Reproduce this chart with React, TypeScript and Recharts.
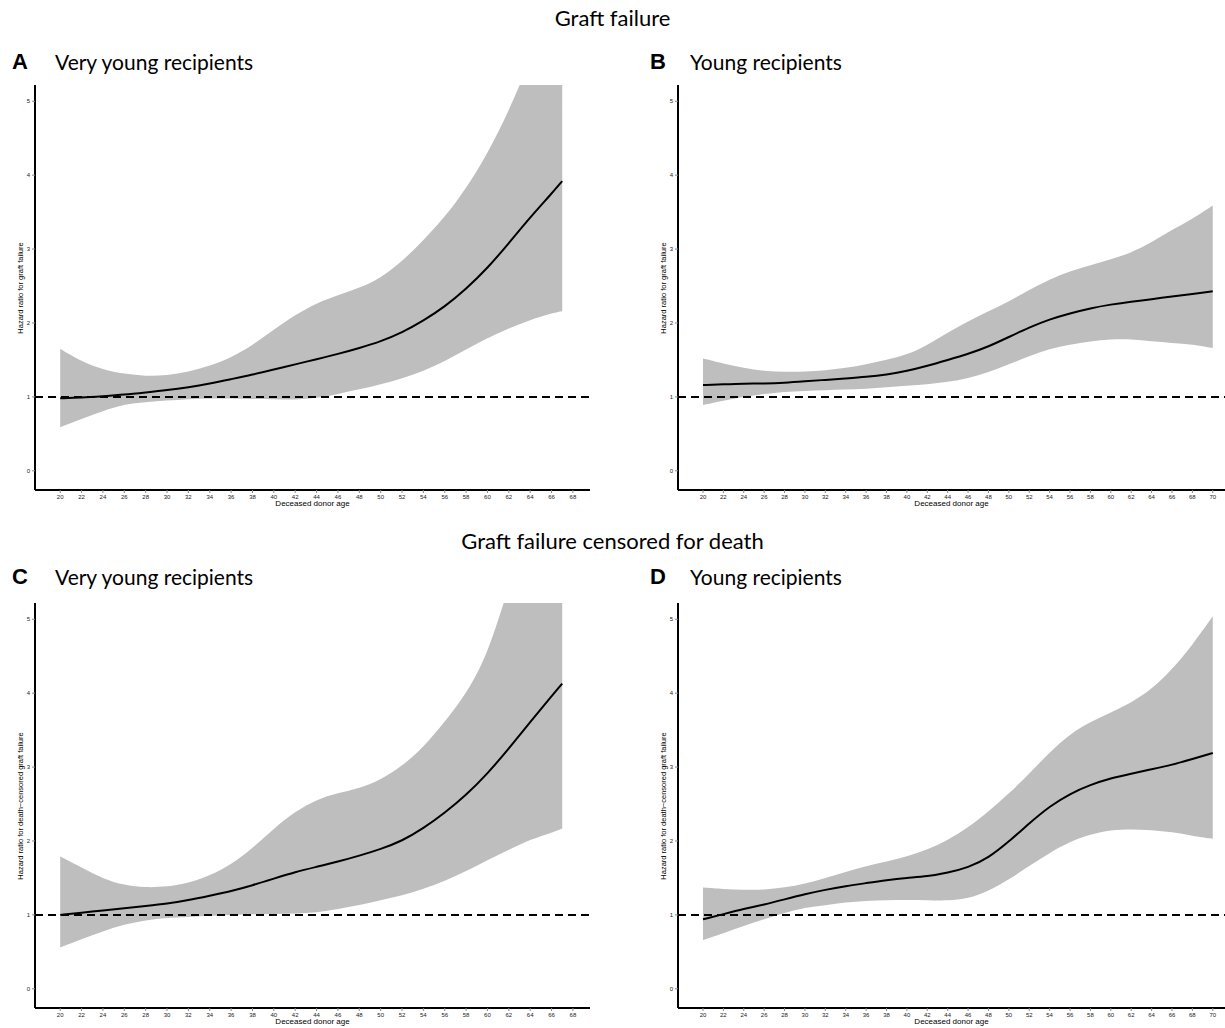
import React from 'react';
import { ComposedChart, Area, Line, XAxis, YAxis, ReferenceLine } from 'recharts';

const agesVeryYoung = [20, 22, 24, 26, 28, 30, 32, 34, 36, 38, 40, 42, 44, 46, 48, 50, 52, 54, 56, 58, 60, 62, 64, 66, 67];
const agesYoung = [20, 22, 24, 26, 28, 30, 32, 34, 36, 38, 40, 42, 44, 46, 48, 50, 52, 54, 56, 58, 60, 62, 64, 66, 68, 70];

const ticksVeryYoung = [20, 22, 24, 26, 28, 30, 32, 34, 36, 38, 40, 42, 44, 46, 48, 50, 52, 54, 56, 58, 60, 62, 64, 66, 68];
const ticksYoung = [20, 22, 24, 26, 28, 30, 32, 34, 36, 38, 40, 42, 44, 46, 48, 50, 52, 54, 56, 58, 60, 62, 64, 66, 68, 70];
const yTicks = [0, 1, 2, 3, 4, 5];

// A: graft failure, very young recipients
const hrA = [0.98, 0.99, 1.01, 1.03, 1.06, 1.09, 1.13, 1.18, 1.24, 1.3, 1.37, 1.44, 1.51, 1.58, 1.66, 1.75, 1.87, 2.03, 2.22, 2.46, 2.74, 3.08, 3.43, 3.75, 3.92];
const upperA = [1.65, 1.48, 1.37, 1.31, 1.28, 1.29, 1.34, 1.42, 1.53, 1.7, 1.91, 2.11, 2.27, 2.38, 2.47, 2.61, 2.83, 3.12, 3.43, 3.82, 4.29, 4.87, 5.55, 6.3, 6.7];
const lowerA = [0.59, 0.7, 0.81, 0.9, 0.93, 0.95, 0.97, 0.98, 0.98, 0.97, 0.97, 0.96, 0.98, 1.04, 1.1, 1.17, 1.25, 1.35, 1.48, 1.64, 1.8, 1.93, 2.04, 2.13, 2.16];

// B: graft failure, young recipients
const hrB = [1.16, 1.17, 1.18, 1.18, 1.19, 1.21, 1.23, 1.25, 1.27, 1.3, 1.35, 1.42, 1.5, 1.58, 1.68, 1.81, 1.94, 2.05, 2.13, 2.2, 2.25, 2.29, 2.32, 2.36, 2.39, 2.43];
const upperB = [1.52, 1.45, 1.39, 1.35, 1.34, 1.34, 1.36, 1.39, 1.44, 1.5, 1.57, 1.7, 1.87, 2.02, 2.16, 2.29, 2.45, 2.59, 2.7, 2.78, 2.86, 2.95, 3.09, 3.26, 3.41, 3.59];
const lowerB = [0.89, 0.95, 1.0, 1.04, 1.07, 1.08, 1.09, 1.1, 1.11, 1.13, 1.15, 1.17, 1.2, 1.25, 1.33, 1.44, 1.55, 1.65, 1.71, 1.75, 1.78, 1.78, 1.75, 1.73, 1.71, 1.66];

// C: death-censored graft failure, very young recipients
const hrC = [1.0, 1.03, 1.06, 1.09, 1.12, 1.15, 1.2, 1.26, 1.32, 1.4, 1.49, 1.58, 1.65, 1.72, 1.8, 1.89, 2.0, 2.17, 2.38, 2.62, 2.91, 3.25, 3.61, 3.96, 4.13];
const upperC = [1.79, 1.64, 1.49, 1.4, 1.37, 1.38, 1.43, 1.53, 1.68, 1.9, 2.17, 2.4, 2.56, 2.65, 2.71, 2.83, 3.01, 3.27, 3.61, 3.99, 4.51, 5.45, 6.3, 7.2, 7.6];
const lowerC = [0.56, 0.67, 0.78, 0.87, 0.93, 0.96, 0.97, 0.99, 1.0, 1.01, 1.01, 1.02, 1.03, 1.08, 1.13, 1.2, 1.26, 1.35, 1.46, 1.59, 1.74, 1.88, 2.02, 2.11, 2.17];

// D: death-censored graft failure, young recipients
const hrD = [0.94, 1.01, 1.08, 1.14, 1.21, 1.28, 1.34, 1.39, 1.43, 1.47, 1.5, 1.52, 1.57, 1.64, 1.77, 1.99, 2.24, 2.47, 2.64, 2.76, 2.85, 2.91, 2.97, 3.03, 3.11, 3.19];
const upperD = [1.37, 1.35, 1.34, 1.34, 1.37, 1.42, 1.5, 1.58, 1.66, 1.72, 1.79, 1.88, 2.01, 2.18, 2.4, 2.64, 2.91, 3.2, 3.45, 3.61, 3.74, 3.87, 4.05, 4.32, 4.65, 5.04];
const lowerD = [0.66, 0.75, 0.85, 0.94, 1.03, 1.1, 1.13, 1.17, 1.19, 1.2, 1.2, 1.2, 1.19, 1.22, 1.32, 1.48, 1.66, 1.84, 1.99, 2.09, 2.15, 2.16, 2.15, 2.12, 2.07, 2.03];

const tickFont = { fontSize: 6, fill: '#222', fontFamily: 'Liberation Sans, Arial, sans-serif' };

interface PanelProps {
  left: number;
  top: number;
  width: number;
  height: number;
  ages: number[];
  hr: number[];
  lower: number[];
  upper: number[];
  xDomain: [number, number];
  xTicks: number[];
  yLabel: string;
  marginRight: number;
}

const Panel = ({ left, top, width, height, ages, hr, lower, upper, xDomain, xTicks, yLabel, marginRight }: PanelProps) => {
  const data = ages.map((age, i) => ({ age, hr: hr[i], band: [lower[i], upper[i]] }));
  const plotLeft = 35;
  const plotRight = width - marginRight;
  const plotTop = 15;
  const plotBottom = height - 30;
  return (
    <div style={{ position: 'absolute', left, top, width, height }}>
      <ComposedChart width={width} height={height} data={data} margin={{ top: 15, right: marginRight, bottom: 0, left: 0 }}>
        <XAxis
          dataKey="age"
          type="number"
          domain={xDomain}
          ticks={xTicks}
          interval={0}
          allowDataOverflow
          axisLine={{ stroke: '#000', strokeWidth: 2 }}
          tickLine={{ stroke: '#888' }}
          tickSize={3}
          tick={tickFont}
          height={30}
        />
        <YAxis
          type="number"
          domain={[-0.26, 5.22]}
          ticks={yTicks}
          allowDataOverflow
          axisLine={{ stroke: '#000', strokeWidth: 2 }}
          tickLine={{ stroke: '#888' }}
          tickSize={3}
          tick={tickFont}
          width={35}
        />
        <Area type="basis" dataKey="band" stroke="none" fill="#bebebe" fillOpacity={1} isAnimationActive={false} />
        <ReferenceLine y={1} stroke="#000" strokeWidth={2} strokeDasharray="8 5" />
        <Line type="basis" dataKey="hr" stroke="#000" strokeWidth={2} dot={false} isAnimationActive={false} />
      </ComposedChart>
      <div
        style={{
          position: 'absolute',
          left: 20,
          top: (plotTop + plotBottom) / 2,
          transform: 'translate(-50%, -50%) rotate(-90deg)',
          whiteSpace: 'nowrap',
          fontSize: 7.5,
          fontFamily: 'Liberation Sans, Arial, sans-serif',
          color: '#000',
        }}
      >
        {yLabel}
      </div>
      <div
        style={{
          position: 'absolute',
          left: (plotLeft + plotRight) / 2,
          top: plotBottom + 10,
          transform: 'translateX(-50%)',
          whiteSpace: 'nowrap',
          fontSize: 8,
          lineHeight: '8px',
          fontFamily: 'Liberation Sans, Arial, sans-serif',
          color: '#000',
        }}
      >
        Deceased donor age
      </div>
    </div>
  );
};

const titleStyle: React.CSSProperties = {
  position: 'absolute',
  left: 0,
  width: 1225,
  textAlign: 'center',
  fontSize: 22,
  lineHeight: '26px',
  fontFamily: 'Lato, sans-serif',
  color: '#000',
};

const letterStyle: React.CSSProperties = {
  position: 'absolute',
  fontSize: 22,
  lineHeight: '24px',
  fontWeight: 'bold',
  fontFamily: 'Liberation Sans, Arial, sans-serif',
  color: '#000',
};

const subStyle: React.CSSProperties = {
  position: 'absolute',
  fontSize: 21,
  lineHeight: '26px',
  fontFamily: 'Lato, sans-serif',
  color: '#000',
  whiteSpace: 'nowrap',
};

export default function App() {
  return (
    <div style={{ position: 'absolute', left: 0, top: 0, width: 1225, height: 1028, overflow: 'hidden', background: '#fff' }}>
      <div style={{ ...titleStyle, top: 5 }}>Graft failure</div>
      <div style={{ ...letterStyle, left: 12, top: 50 }}>A</div>
      <div style={{ ...subStyle, left: 55, top: 49 }}>Very young recipients</div>
      <div style={{ ...letterStyle, left: 650, top: 50 }}>B</div>
      <div style={{ ...subStyle, left: 690, top: 49 }}>Young recipients</div>

      <div style={{ ...titleStyle, top: 528 }}>Graft failure censored for death</div>
      <div style={{ ...letterStyle, left: 12, top: 565 }}>C</div>
      <div style={{ ...subStyle, left: 55, top: 564 }}>Very young recipients</div>
      <div style={{ ...letterStyle, left: 650, top: 565 }}>D</div>
      <div style={{ ...subStyle, left: 690, top: 564 }}>Young recipients</div>

      <Panel
        left={0}
        top={70}
        width={600}
        height={450}
        marginRight={10}
        ages={agesVeryYoung}
        hr={hrA}
        lower={lowerA}
        upper={upperA}
        xDomain={[17.64, 69.6]}
        xTicks={ticksVeryYoung}
        yLabel="Hazard ratio for graft failure"
      />
      <Panel
        left={643}
        top={70}
        width={582}
        height={450}
        marginRight={0}
        ages={agesYoung}
        hr={hrB}
        lower={lowerB}
        upper={upperB}
        xDomain={[17.55, 71.2]}
        xTicks={ticksYoung}
        yLabel="Hazard ratio for graft failure"
      />
      <Panel
        left={0}
        top={588}
        width={600}
        height={450}
        marginRight={10}
        ages={agesVeryYoung}
        hr={hrC}
        lower={lowerC}
        upper={upperC}
        xDomain={[17.64, 69.6]}
        xTicks={ticksVeryYoung}
        yLabel="Hazard ratio for death−censored graft failure"
      />
      <Panel
        left={643}
        top={588}
        width={582}
        height={450}
        marginRight={0}
        ages={agesYoung}
        hr={hrD}
        lower={lowerD}
        upper={upperD}
        xDomain={[17.55, 71.2]}
        xTicks={ticksYoung}
        yLabel="Hazard ratio for death−censored graft failure"
      />
    </div>
  );
}
